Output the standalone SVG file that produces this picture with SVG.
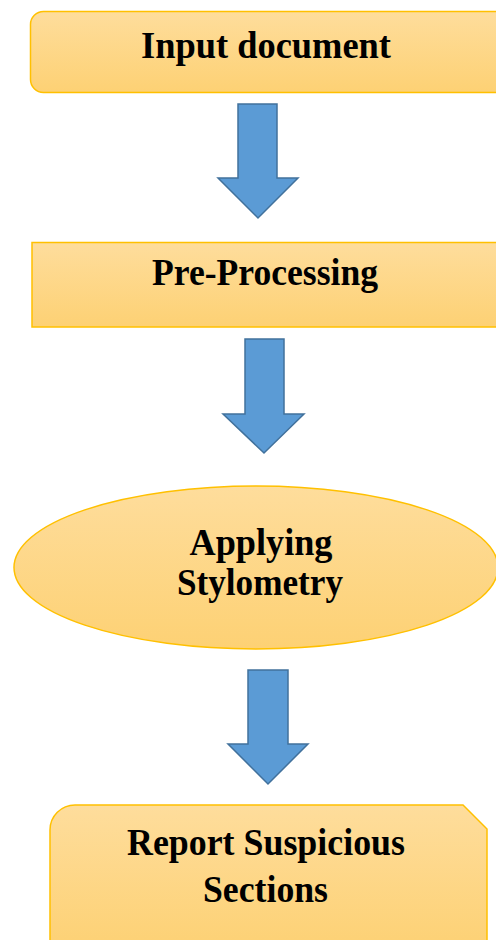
<svg xmlns="http://www.w3.org/2000/svg" width="496" height="940" viewBox="0 0 496 940">
  <defs>
    <linearGradient id="goldFill" x1="0" y1="0" x2="0" y2="1">
      <stop offset="0" stop-color="#fedd9c"/>
      <stop offset="1" stop-color="#fdd174"/>
    </linearGradient>
    <style>
      .node { fill: url(#goldFill); stroke: #ffc000; stroke-width: 1.5; }
      .label { font-family: "Liberation Serif", "Times New Roman", serif; font-weight: bold; font-size: 38px; fill: #000; text-anchor: middle; }
      .arrow { fill: #5b9bd5; stroke: #41719c; stroke-width: 1.5; stroke-linejoin: miter; }
    </style>
  </defs>
  <rect width="496" height="940" fill="#ffffff"/>

  <g id="input-document">
    <rect class="node" x="30.5" y="11.5" width="480" height="81" rx="13" ry="13"/>
    <text class="label" x="266" y="58" textLength="250" lengthAdjust="spacingAndGlyphs">Input document</text>
  </g>

  <g id="pre-processing">
    <rect class="node" x="32" y="242.5" width="480" height="84.5"/>
    <text class="label" x="265" y="285" textLength="226" lengthAdjust="spacingAndGlyphs">Pre-Processing</text>
  </g>

  <g id="applying-stylometry">
    <ellipse class="node" cx="256" cy="567.5" rx="242" ry="81.5"/>
    <text class="label" x="261" y="555" textLength="143" lengthAdjust="spacingAndGlyphs">Applying</text>
    <text class="label" x="260" y="595" textLength="166" lengthAdjust="spacingAndGlyphs">Stylometry</text>
  </g>

  <g id="report-suspicious-sections">
    <path class="node" d="M50,830 A25,25 0 0 1 75,805 L463,805 L487,829 L487,950 L50,950 Z"/>
    <text class="label" x="266" y="855" textLength="278" lengthAdjust="spacingAndGlyphs">Report Suspicious</text>
    <text class="label" x="265.5" y="902" textLength="125" lengthAdjust="spacingAndGlyphs">Sections</text>
  </g>

  <g id="connectors">
    <path class="arrow" d="M238,104 L277,104 L277,178 L298,178 L258,218 L218,178 L238,178 Z"/>
    <path class="arrow" d="M245,339 L284,339 L284,414 L304,414 L264,453 L223,414 L245,414 Z"/>
    <path class="arrow" d="M248,670 L288,670 L288,744 L308,744 L268,784 L228,744 L248,744 Z"/>
  </g>
</svg>
